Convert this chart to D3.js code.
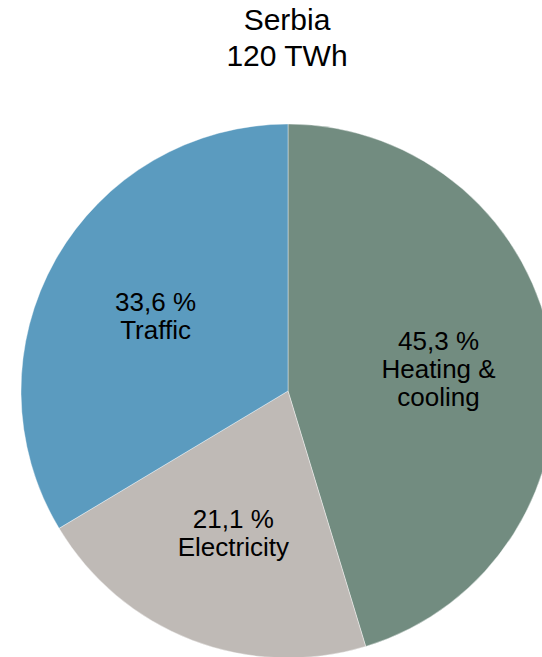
<!DOCTYPE html>
<html>
<head>
<meta charset="utf-8">
<script src="https://cdn.jsdelivr.net/npm/d3@7/dist/d3.min.js"></script>
<style>
  html, body { margin: 0; padding: 0; background: #fff; }
  svg { display: block; font-family: "Liberation Sans", Arial, sans-serif; }
</style>
</head>
<body>
<svg id="chart" width="542" height="657"></svg>
<script>
// Final energy consumption by sector, share in percent
const titleLines = ["Serbia", "120 TWh"];
const categories = ["Heating & cooling", "Electricity", "Traffic"];
const labelLines = [["Heating &", "cooling"], ["Electricity"], ["Traffic"]];
const shares = [45.3, 21.1, 33.6];
const colors = ["#728c80", "#bfbab6", "#5b9bbf"];

const W = 542, H = 657;
const cx = 288, cy = 391, radius = 267;

const svg = d3.select("#chart");

// Decimal comma, as in the labels
const locale = d3.formatLocale({ decimal: ",", thousands: " ", grouping: [3], currency: ["", ""] });
const fmt = locale.format(".1f");

const data = categories.map((c, i) => ({ category: c, value: shares[i], lines: labelLines[i], color: colors[i] }));

const pie = d3.pie().value(d => d.value).sort(null).startAngle(0).endAngle(2 * Math.PI);
const arcs = pie(data);

const arc = d3.arc().innerRadius(0).outerRadius(radius);
const labelArc = d3.arc().innerRadius(radius * 0.57).outerRadius(radius * 0.57);

const g = svg.append("g").attr("transform", `translate(${cx},${cy})`);

g.selectAll("path.slice")
  .data(arcs)
  .join("path")
  .attr("class", "slice")
  .attr("d", arc)
  .attr("fill", d => d.data.color)
  .attr("stroke", "#ffffff")
  .attr("stroke-width", 0.4);

// Slice labels: value line followed by the category lines
const fontSize = 26, lineH = 28;
const labels = g.selectAll("text.label")
  .data(arcs)
  .join("text")
  .attr("class", "label")
  .attr("text-anchor", "middle")
  .attr("font-size", fontSize)
  .attr("fill", "#000")
  .attr("transform", d => {
    const [x, y] = labelArc.centroid(d);
    return `translate(${x},${y})`;
  });

labels.each(function(d) {
  const lines = [fmt(d.data.value) + " %"].concat(d.data.lines);
  const n = lines.length;
  const t = d3.select(this);
  lines.forEach((ln, i) => {
    t.append("tspan")
      .attr("x", 0)
      .attr("y", (i - (n - 1) / 2) * lineH + fontSize * 0.36)
      .text(ln);
  });
});

// Title
const title = svg.append("text")
  .attr("text-anchor", "middle")
  .attr("font-size", 30)
  .attr("fill", "#000");
titleLines.forEach((t, i) => {
  title.append("tspan").attr("x", 287).attr("y", 30 + i * 36).text(t);
});
</script>
</body>
</html>
